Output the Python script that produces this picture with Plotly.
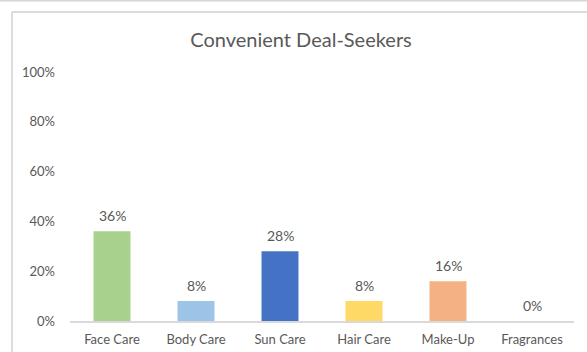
import plotly.graph_objects as go

categories = ["Face Care", "Body Care", "Sun Care", "Hair Care", "Make-Up", "Fragrances"]
values = [36, 8, 28, 8, 16, 0]
colors = ["#A9D18E", "#9DC3E6", "#4472C4", "#FFD966", "#F4B183", "#A5A5A5"]
tick_vals = [0, 20, 40, 60, 80, 100]
tick_text = ["0%", "20%", "40%", "60%", "80%", "100%"]
title = "Convenient Deal-Seekers"

FONT = "Lato"
GREY = "#595959"

fig = go.Figure()
fig.add_trace(go.Bar(x=categories, y=values, marker_color=colors, width=0.44,
                     marker_line_width=0, hoverinfo="skip"))

for c, v in zip(categories, values):
    fig.add_annotation(x=c, y=v, text=f"{v}%", showarrow=False, yanchor="middle",
                       yshift=16, font=dict(family=FONT, size=14, color=GREY))

W, H = 587, 352
L, R, T, B = 70, 13, 72, 31
pw, ph = W - L - R, H - T - B

def px(x):
    return (x - L) / pw

def py(y):
    return (H - B - y) / ph

line_col = "#D0D0D0"
fig.add_shape(type="line", xref="paper", yref="paper", x0=px(0), x1=px(W), y0=py(0.8), y1=py(0.8),
              line=dict(color="#D6D6D6", width=1.5))
fig.add_shape(type="line", xref="paper", yref="paper", x0=px(12), x1=px(W), y0=py(12), y1=py(12),
              line=dict(color=line_col, width=1.5))
fig.add_shape(type="line", xref="paper", yref="paper", x0=px(12), x1=px(12), y0=py(12), y1=py(H),
              line=dict(color=line_col, width=1.5))

fig.update_layout(
    width=W, height=H,
    margin=dict(l=L, r=R, t=T, b=B, autoexpand=False),
    paper_bgcolor="white", plot_bgcolor="white",
    showlegend=False,
    title=dict(text=title, x=301 / W, xanchor="center", y=1 - 40 / H, yanchor="middle",
               font=dict(family=FONT, size=20, color=GREY)),
    xaxis=dict(showgrid=False, showline=True, linecolor="#D9D9D9", linewidth=1.5,
               ticks="", ticklabelstandoff=6, automargin=False,
               tickfont=dict(family=FONT, size=13, color=GREY), fixedrange=True),
    yaxis=dict(range=[0, 100], tickvals=tick_vals, ticktext=tick_text, showgrid=False,
               zeroline=False, showline=False, ticks="", ticklabelstandoff=14, automargin=False,
               tickfont=dict(family=FONT, size=13, color=GREY), fixedrange=True),
)

fig.write_html("out.html", config={"displayModeBar": False},
               post_script="document.body.style.margin='0';document.body.style.overflow='hidden';")
